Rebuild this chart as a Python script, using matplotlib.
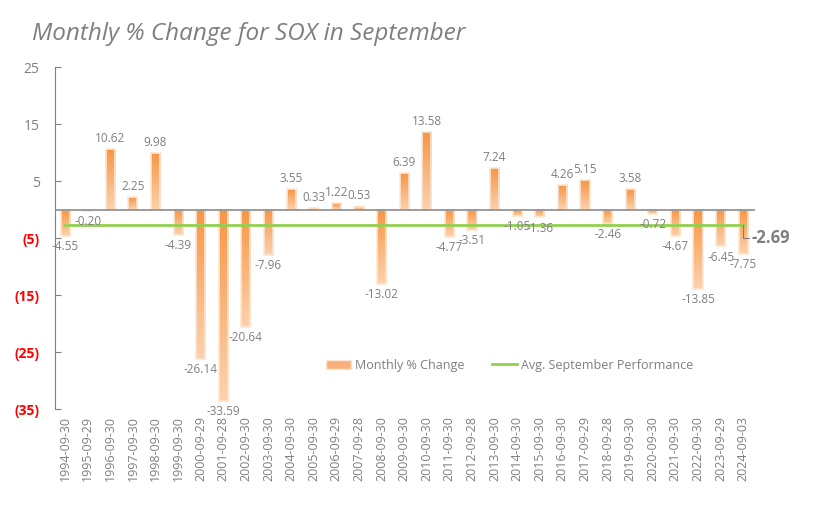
import numpy as np
import matplotlib.pyplot as plt
from matplotlib.colors import LinearSegmentedColormap
from matplotlib.patches import Patch
from matplotlib.lines import Line2D

dates = ['1994-09-30', '1995-09-29', '1996-09-30', '1997-09-30', '1998-09-30',
         '1999-09-30', '2000-09-29', '2001-09-28', '2002-09-30', '2003-09-30',
         '2004-09-30', '2005-09-30', '2006-09-29', '2007-09-28', '2008-09-30',
         '2009-09-30', '2010-09-30', '2011-09-30', '2012-09-28', '2013-09-30',
         '2014-09-30', '2015-09-30', '2016-09-30', '2017-09-29', '2018-09-28',
         '2019-09-30', '2020-09-30', '2021-09-30', '2022-09-30', '2023-09-29',
         '2024-09-03']
changes = [-4.55, -0.20, 10.62, 2.25, 9.98, -4.39, -26.14, -33.59, -20.64, -7.96,
           3.55, 0.33, 1.22, 0.53, -13.02, 6.39, 13.58, -4.77, -3.51, 7.24,
           -1.05, -1.36, 4.26, 5.15, -2.46, 3.58, -0.72, -4.67, -13.85, -6.45,
           -7.75]
avg_sep = -2.69
yticks = [25, 15, 5, -5, -15, -25, -35]
ytick_labels = ['25', '15', '5', '(5)', '(15)', '(25)', '(35)']

gray = '#7f7f7f'
plt.rcParams['font.family'] = ['Open Sans', 'DejaVu Sans']

fig = plt.figure(figsize=(8.23, 5.16), dpi=100)
ax = fig.add_axes([0.0668, 0.207, 0.85, 0.663])

x = np.arange(len(dates))
cmap = LinearSegmentedColormap.from_list('og', ['#f79646', '#fcd2ae'])
grad = np.linspace(0, 1, 256).reshape(-1, 1)

# bars with a vertical gradient (dark on top, light at the bottom)
bars = ax.bar(x, changes, width=0.4, color='none', edgecolor='#fde6d2',
              linewidth=1.2, zorder=4)
for b in bars:
    x0, w = b.get_x(), b.get_width()
    y0, y1 = sorted([b.get_y(), b.get_y() + b.get_height()])
    ax.imshow(grad, extent=[x0, x0 + w, y0, y1], aspect='auto', cmap=cmap,
              origin='upper', zorder=3)

ax.bar_label(bars, labels=[f'{v:.2f}' for v in changes], padding=3,
             color=gray, fontsize=8.5, zorder=6)

ax.axhline(0, color='#8c8c8c', lw=1.2, zorder=5)
ax.plot([x[0], x[-1]], [avg_sep, avg_sep], color='#92d050', lw=2, zorder=5)
# leader to the average label
ax.plot([x[-1], x[-1], x[-1] + 0.25], [avg_sep, -4.9, -4.9], color=gray, lw=0.8, zorder=5)
ax.text(x[-1] + 0.35, -4.9, f'{avg_sep:.2f}', color=gray, fontsize=12,
        fontweight='bold', va='center', ha='left')

ax.set_xlim(-0.45, 30.5)
ax.set_ylim(-35, 25)
ax.set_yticks(yticks)
ax.set_yticklabels(ytick_labels)
for t, v in zip(ax.get_yticklabels(), yticks):
    if v < 0:
        t.set_color('red')
        t.set_fontweight('bold')
    else:
        t.set_color(gray)
ax.tick_params(axis='y', direction='in', length=4, color=gray, labelsize=10, pad=11)
ax.set_xticks(x)
ax.set_xticklabels(dates, rotation=90, color=gray, fontsize=9)
ax.tick_params(axis='x', length=0, pad=5)

for s in ['top', 'right', 'bottom']:
    ax.spines[s].set_visible(False)
ax.spines['left'].set_color(gray)

handles = [Patch(facecolor='#f9b07a', edgecolor='#fde6d2'),
           Line2D([0], [0], color='#92d050', lw=2)]
ax.legend(handles, ['Monthly % Change', 'Avg. September Performance'],
          loc='center', bbox_to_anchor=(0.65, 0.129), ncol=2, frameon=False,
          fontsize=9, labelcolor=gray, columnspacing=2.2, handlelength=2,
          handletextpad=0.3)

fig.text(0.039, 0.935, 'Monthly % Change for SOX in September', fontsize=17.5,
         style='italic', color=gray, va='center')

fig.savefig('out.png', dpi=100)
